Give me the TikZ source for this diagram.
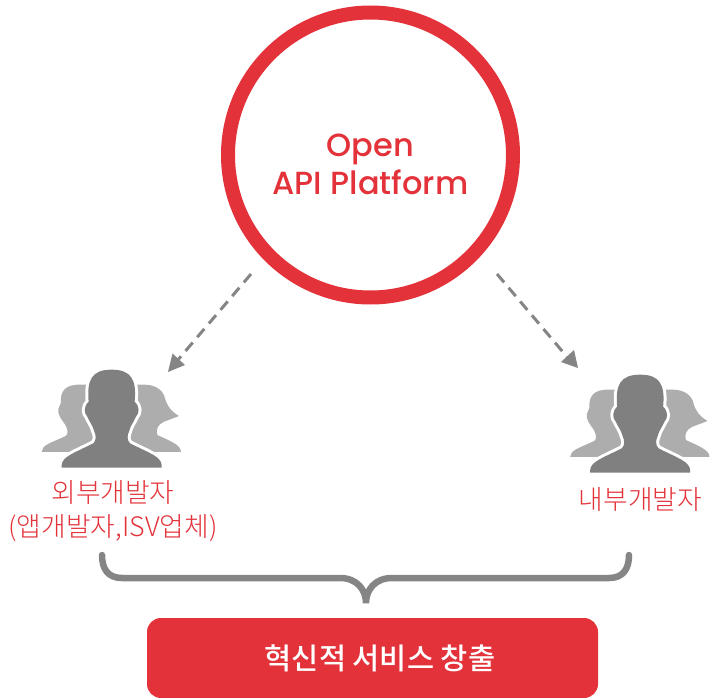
\documentclass[tikz,border=0pt]{standalone}
\usepackage{fontspec}
\setmainfont{Poppins Medium}
\newfontfamily\krfont{Noto Sans CJK KR Light}
\newfontfamily\krmedium{Noto Sans CJK KR Medium}
\definecolor{brandred}{HTML}{E3323A}
\definecolor{darkfig}{HTML}{808080}
\definecolor{lightfig}{HTML}{ADADAD}
\definecolor{linegray}{HTML}{858585}
\tikzset{
  x=1pt,y=-1pt,
  hub/.style={circle,draw=brandred,line width=14pt,fill=white,minimum size=285pt,inner sep=0pt},
  hubtext/.style={text=brandred,font=\fontsize{32}{38}\selectfont,align=center,inner sep=0pt},
  devlabel/.style={text=brandred,font=\krfont\fontsize{26.8}{34}\selectfont,align=center,inner sep=0pt},
  result/.style={fill=brandred,rounded corners=14pt,minimum width=451pt,minimum height=80pt,inner sep=0pt,text=white,font=\krmedium\fontsize{29.5}{34}\selectfont},
  flow/.style={draw=linegray,line width=3pt,dash pattern=on 11pt off 7pt},
  flowtip/.style={fill=linegray,draw=none},
  brace/.style={draw=linegray,line width=6.5pt,line cap=round},
  people/.pic={
    \begin{scope}[x=0.3333pt,y=-0.3333pt]
      \fill[lightfig] (125,276) .. controls (126,255) and (150,250) .. (197,228)
        .. controls (205,222) and (205,212) .. (195,193)
        .. controls (186,180) and (172,165) .. (175,147)
        .. controls (176,140) and (182,135) .. (183,128)
        .. controls (180,95) and (195,73) .. (240,74) -- (300,74) -- (300,276) -- cycle;
      \fill[lightfig] (543,276) .. controls (542,255) and (515,245) .. (472,225)
        .. controls (468,210) and (472,195) .. (490,186)
        .. controls (505,180) and (520,175) .. (537,168)
        .. controls (515,155) and (502,140) .. (495,115)
        .. controls (490,90) and (465,73) .. (430,74) -- (370,74) -- (370,276) -- cycle;
      \path[draw=white,fill=white,line width=6pt,line join=round,
        postaction={fill=darkfig}]
        (185,323) -- (185,315)
        .. controls (187,290) and (220,280) .. (280,250)
        .. controls (290,240) and (288,225) .. (283,215)
        .. controls (278,195) and (268,185) .. (262,170)
        .. controls (252,160) and (250,140) .. (266,125)
        .. controls (260,60) and (275,29) .. (335,29)
        .. controls (395,29) and (410,60) .. (404,125)
        .. controls (420,140) and (418,160) .. (408,170)
        .. controls (402,185) and (392,195) .. (387,215)
        .. controls (382,225) and (380,240) .. (390,250)
        .. controls (450,280) and (483,290) .. (485,315)
        -- (485,323) -- cycle;
    \end{scope}
  }
}
\begin{document}
\begin{tikzpicture}
\useasboundingbox (0,0) rectangle (710,698);
\node[hub] (platform) at (370.5,155) {};
\node[hubtext] (platformtext) at (370.5,164) {Open\\API Platform};
\pic at (0,360) {people};
\pic at (528.5,365) {people};
\node[devlabel] (external) at (113,511) {외부개발자\\(앱개발자,ISV업체)};
\node[devlabel] (internal) at (640.5,499) {내부개발자};
\node[result] (service) at (372.5,658) {\hspace*{15pt}혁신적 서비스 창출};
\coordinate (lstart) at (251,274);
\coordinate (lend) at (177,361);
\coordinate (ltip) at (168,372);
\coordinate (rstart) at (497,274);
\coordinate (rend) at (568,358);
\coordinate (rtip) at (578,368);
\draw[flow] (lstart) -- (lend);
\draw[flow] (rstart) -- (rend);
\fill[flowtip] (ltip) -- (172.5,353.5) -- (185,365) -- cycle;
\fill[flowtip] (rtip) -- (574,350) -- (561,362) -- cycle;
\coordinate (bl) at (102,555);
\coordinate (br) at (629,555);
\coordinate (bm) at (366,603);
\draw[brace] (bl) .. controls (102,569) and (108,578) .. (122,578)
  -- (340,578) .. controls (357,578) and (366,590) .. (bm)
  .. controls (366,590) and (375,578) .. (392,578)
  -- (609,578) .. controls (623,578) and (629,569) .. (br);
\end{tikzpicture}
\end{document}
